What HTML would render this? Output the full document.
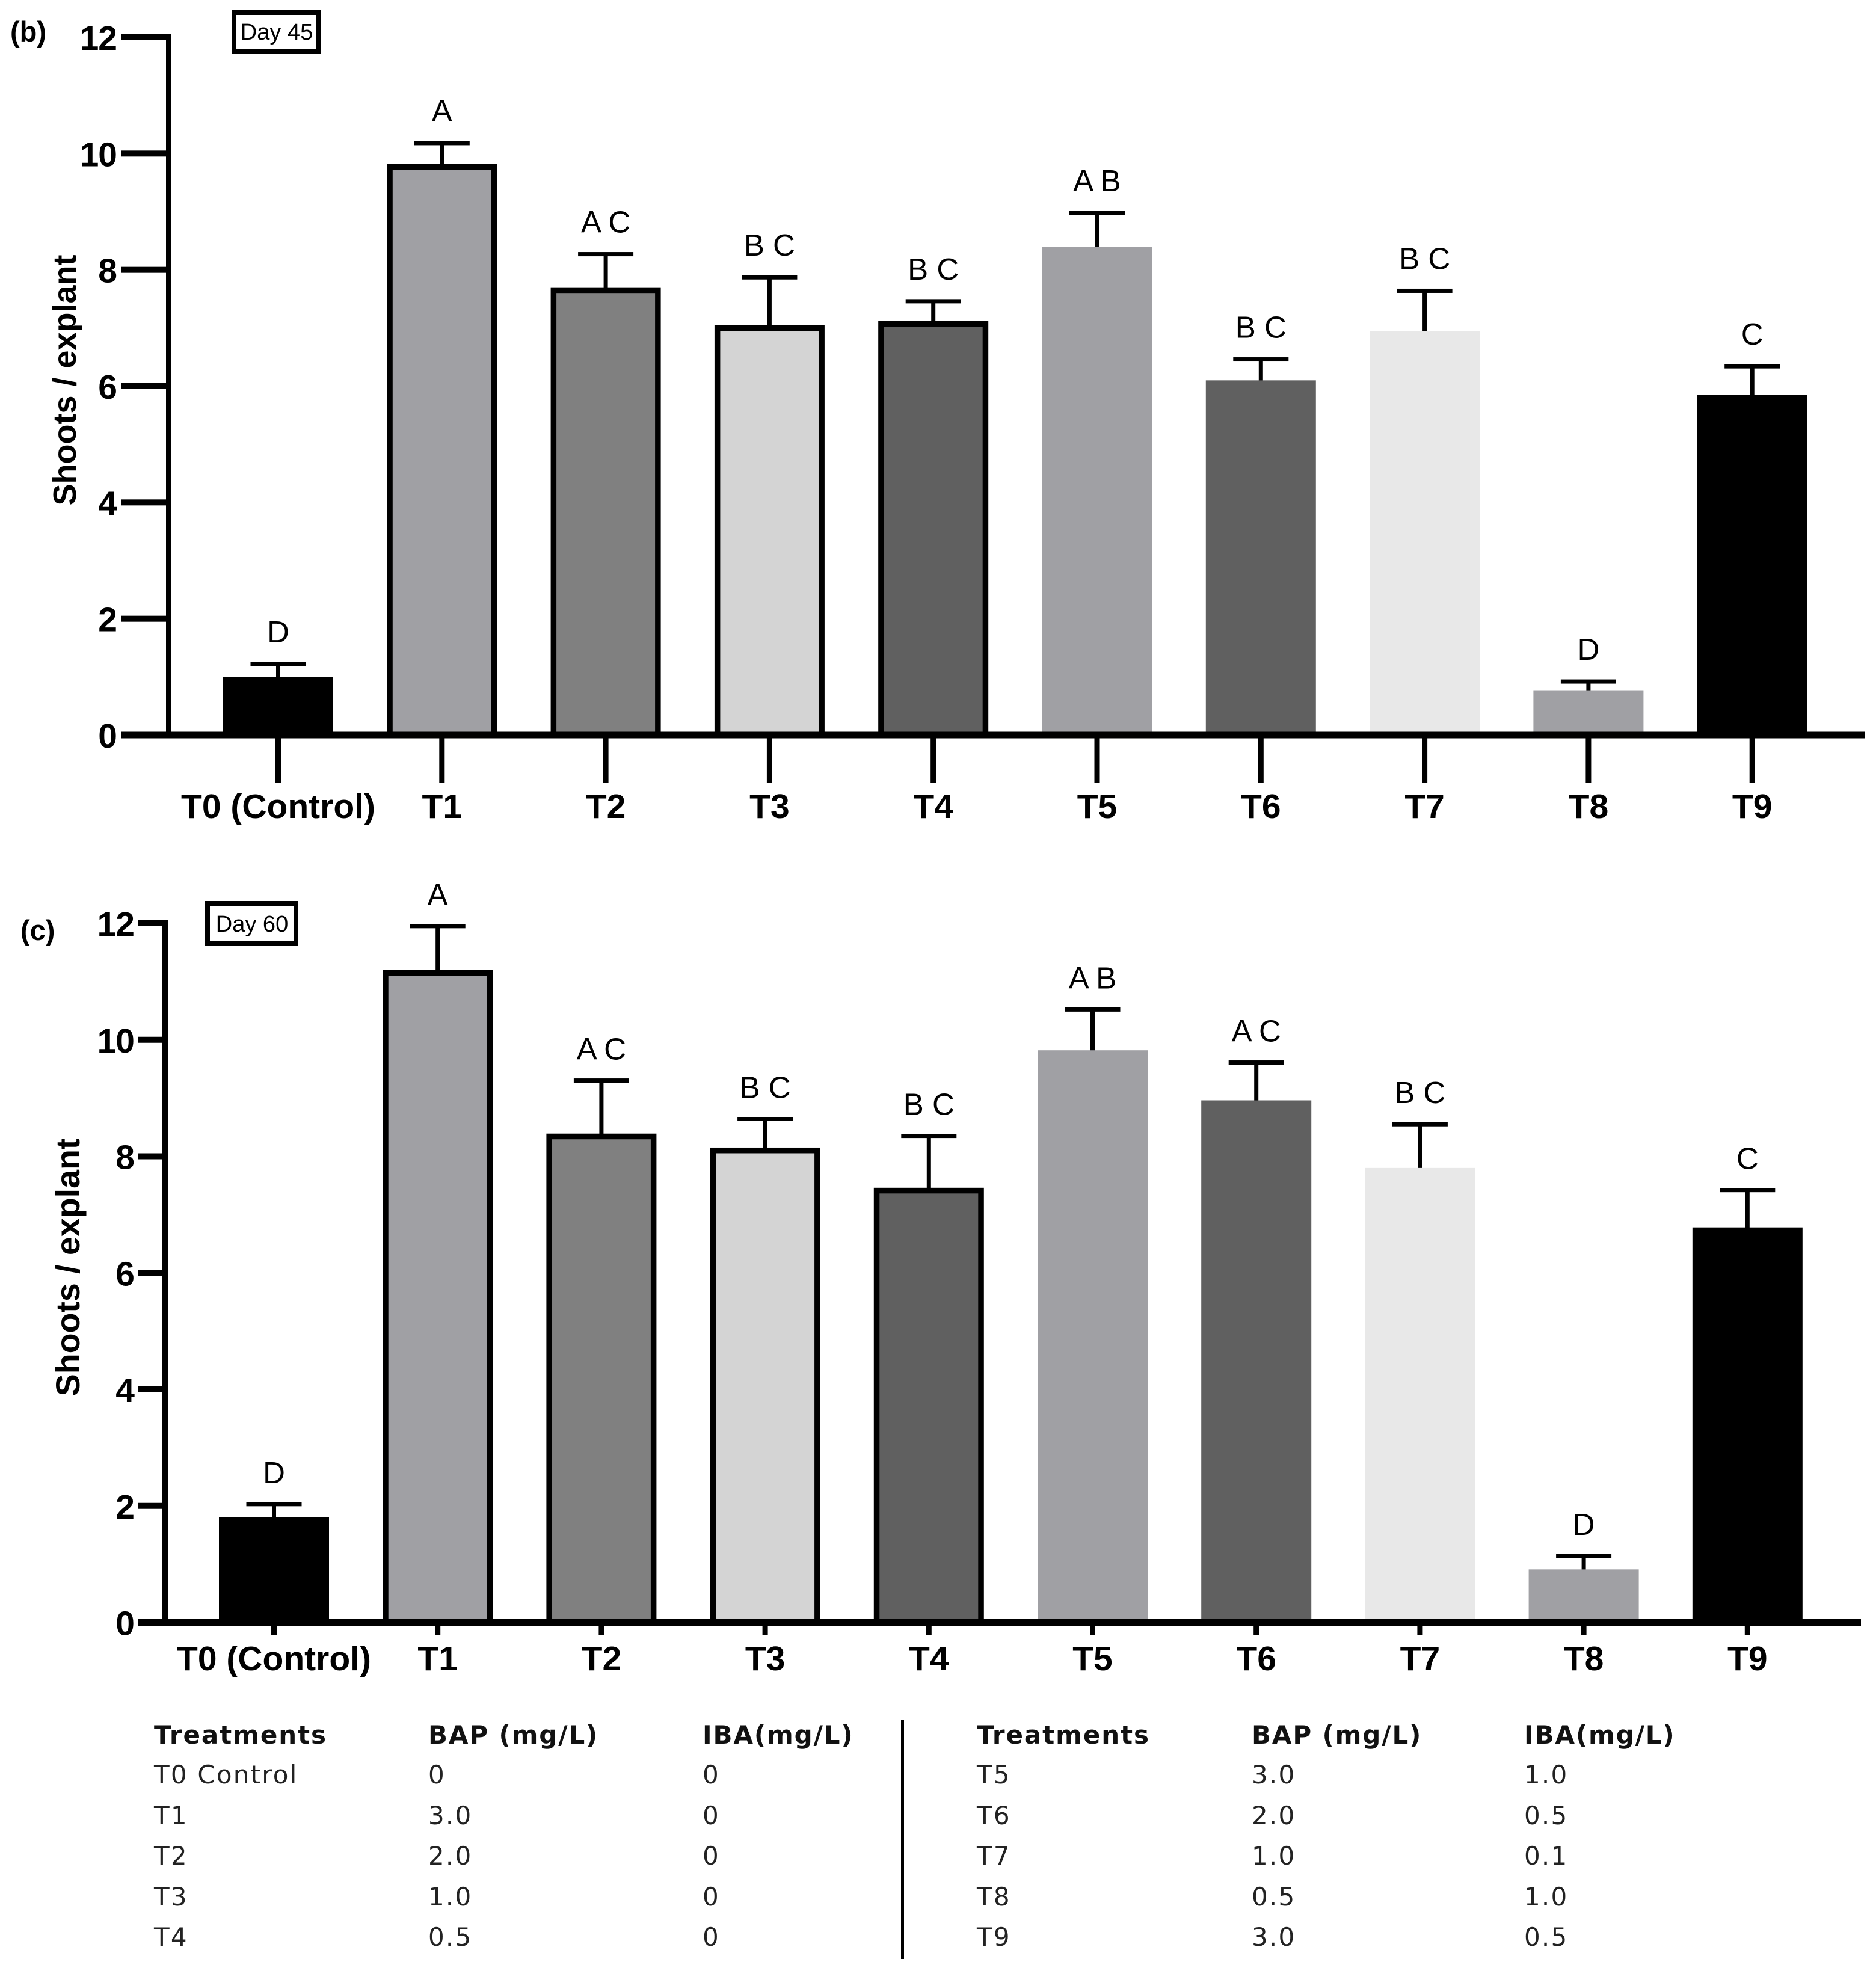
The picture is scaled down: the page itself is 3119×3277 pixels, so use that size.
<!DOCTYPE html>
<html lang="en">
<head>
<meta charset="utf-8">
<title>Shoots per explant at day 45 and day 60</title>
<style>
html,body{margin:0;padding:0;background:#fff;}
svg{display:block;}
text{font-family:"Liberation Sans",Arial,sans-serif;fill:#000;}
.tbl text{font-family:"DejaVu Sans",sans-serif;font-size:42px;fill:#222;letter-spacing:2.2px;}
.tbl text.h{font-weight:bold;fill:#111;font-size:42px;letter-spacing:1.9px;}
</style>
</head>
<body>
<svg id="figure" xmlns="http://www.w3.org/2000/svg" width="3119" height="3277" viewBox="0 0 3119 3277">
  <rect x="0" y="0" width="3119" height="3277" fill="#fff"/>

  <g id="panel-b"></g>
  <g id="panel-c"></g>

  <text x="17" y="69" font-size="47" font-weight="bold">(b)</text>
  <rect x="389" y="21" width="141" height="65" fill="#fff" stroke="#000" stroke-width="8"/>
  <text x="460" y="66" font-size="38" text-anchor="middle">Day 45</text>
  <text transform="translate(126 632) rotate(-90)" font-size="54" font-weight="bold" text-anchor="middle">Shoots / explant</text>

  <text x="34" y="1563" font-size="47" font-weight="bold">(c)</text>
  <rect x="345" y="1502" width="147" height="67" fill="#fff" stroke="#000" stroke-width="8"/>
  <text x="419" y="1549" font-size="38" text-anchor="middle">Day 60</text>
  <text transform="translate(132 2107) rotate(-90)" font-size="55.5" font-weight="bold" text-anchor="middle">Shoots / explant</text>

  <g class="tbl">
    <text class="h" x="256" y="2899">Treatments</text>
    <text class="h" x="712" y="2899">BAP (mg/L)</text>
    <text class="h" x="1168" y="2899">IBA(mg/L)</text>
    <text x="256" y="2965">T0 Control</text>
    <text x="712" y="2965">0</text>
    <text x="1168" y="2965">0</text>
    <text x="256" y="3033">T1</text>
    <text x="712" y="3033">3.0</text>
    <text x="1168" y="3033">0</text>
    <text x="256" y="3100">T2</text>
    <text x="712" y="3100">2.0</text>
    <text x="1168" y="3100">0</text>
    <text x="256" y="3168">T3</text>
    <text x="712" y="3168">1.0</text>
    <text x="1168" y="3168">0</text>
    <text x="256" y="3235">T4</text>
    <text x="712" y="3235">0.5</text>
    <text x="1168" y="3235">0</text>

    <rect x="1498" y="2860" width="5" height="397" fill="#000"/>

    <text class="h" x="1624" y="2899">Treatments</text>
    <text class="h" x="2081" y="2899">BAP (mg/L)</text>
    <text class="h" x="2534" y="2899">IBA(mg/L)</text>
    <text x="1624" y="2965">T5</text>
    <text x="2081" y="2965">3.0</text>
    <text x="2534" y="2965">1.0</text>
    <text x="1624" y="3033">T6</text>
    <text x="2081" y="3033">2.0</text>
    <text x="2534" y="3033">0.5</text>
    <text x="1624" y="3100">T7</text>
    <text x="2081" y="3100">1.0</text>
    <text x="2534" y="3100">0.1</text>
    <text x="1624" y="3168">T8</text>
    <text x="2081" y="3168">0.5</text>
    <text x="2534" y="3168">1.0</text>
    <text x="1624" y="3235">T9</text>
    <text x="2081" y="3235">3.0</text>
    <text x="2534" y="3235">0.5</text>
  </g>
</svg>

<script>
// Chart data
const categories = ["T0 (Control)", "T1", "T2", "T3", "T4", "T5", "T6", "T7", "T8", "T9"];
const yTicks = [0, 2, 4, 6, 8, 10, 12];

const day45Means  = [1.0, 9.82, 7.7, 7.05, 7.12, 8.4, 6.1, 6.95, 0.76, 5.85];
const day45Errors = [0.22, 0.36, 0.57, 0.82, 0.34, 0.58, 0.36, 0.69, 0.16, 0.49];
const day45Letters = ["D", "A", "A C", "B C", "B C", "A B", "B C", "B C", "D", "C"];

const day60Means  = [1.81, 11.2, 8.39, 8.15, 7.46, 9.82, 8.96, 7.8, 0.91, 6.78];
const day60Errors = [0.22, 0.75, 0.91, 0.49, 0.89, 0.7, 0.65, 0.75, 0.23, 0.64];
const day60Letters = ["D", "A", "A C", "B C", "B C", "A B", "A C", "B C", "D", "C"];

// Bar appearance (one swatch per treatment)
const palette = {
  T0: {fill: "#000000", outlined: false},
  T1: {fill: "#a0a0a4", outlined: true},
  T2: {fill: "#808080", outlined: true},
  T3: {fill: "#d4d4d4", outlined: true},
  T4: {fill: "#606060", outlined: true},
  T5: {fill: "#a0a0a4", outlined: false},
  T6: {fill: "#606060", outlined: false},
  T7: {fill: "#e8e8e8", outlined: false},
  T8: {fill: "#a0a0a4", outlined: false},
  T9: {fill: "#000000", outlined: false}
};

const NS = "http://www.w3.org/2000/svg";
function make(tag, attrs, parent) {
  const node = document.createElementNS(NS, tag);
  for (const key in attrs) node.setAttribute(key, attrs[key]);
  parent.appendChild(node);
  return node;
}

function drawPanel(panel) {
  const root = document.getElementById(panel.id);
  const yScale = v => panel.y0 + (panel.y12 - panel.y0) * v / 12;
  const xScale = i => panel.x0 + panel.step * i;
  const barWidth = 183;
  const axisY = yScale(0);

  categories.forEach((name, i) => {
    const key = name.slice(0, 2);
    const cx = xScale(i);
    const top = yScale(panel.means[i]);
    const errTop = yScale(panel.means[i] + panel.errors[i]);
    const style = palette[key];

    const stem = make("rect", {x: cx - 3.5, y: errTop, width: 7, height: top - errTop + 4, fill: "#000"}, root);
    
    

    const cap = make("rect", {x: cx - 46, y: errTop - 3.5, width: 92, height: 7, fill: "#000"}, root);
    
    

    const sw = style.outlined ? panel.stroke : 0;
    const bar = make("rect", {
      x: cx - barWidth / 2 + sw / 2,
      y: top + sw / 2,
      width: barWidth - sw,
      height: axisY - top - sw / 2,
      fill: style.fill,
      stroke: style.outlined ? "#000" : "none",
      "stroke-width": sw
    }, root);
    
    

    const letter = make("text", {x: cx, y: errTop - panel.letterGap, "font-size": 51, "text-anchor": "middle"}, root);
    letter.textContent = panel.letters[i];
    
    

    const tick = make("rect", {x: cx - 4.5, y: axisY, width: 9, height: panel.xTickEnd - axisY, fill: "#000"}, root);
    
    

    const label = make("text", {x: cx, y: panel.xLabelY, "font-size": 57, "font-weight": "bold", "text-anchor": "middle"}, root);
    label.textContent = name;
    
    
  });

  const yAxis = make("rect", {x: panel.axisX, y: yScale(12) - 5, width: panel.axisW, height: axisY - yScale(12) + 5, fill: "#000"}, root);
  
  

  const xAxis = make("rect", {x: panel.tickStart, y: axisY - 5.5, width: panel.axisEnd - panel.tickStart, height: 11, fill: "#000"}, root);
  
  

  yTicks.forEach(v => {
    const y = yScale(v);
    const tick = make("rect", {x: panel.tickStart, y: y - 5, width: panel.axisX - panel.tickStart + 1, height: 10, fill: "#000"}, root);
    
    

    const label = make("text", {x: panel.tickStart - 7, y: y + 21, "font-size": 57, "font-weight": "bold", "text-anchor": "end", "letter-spacing": "-1"}, root);
    label.textContent = String(v);
    
    
  });
}

drawPanel({
  id: "panel-b", means: day45Means, errors: day45Errors, letters: day45Letters,
  y0: 1222, y12: 62, x0: 462.5, step: 272.3, stroke: 9.5, letterGap: 36,
  axisX: 276, axisW: 9, tickStart: 201, axisEnd: 3101, xTickEnd: 1302, xLabelY: 1360
});
drawPanel({
  id: "panel-c", means: day60Means, errors: day60Errors, letters: day60Letters,
  y0: 2697.5, y12: 1535, x0: 455.5, step: 272.2, stroke: 9.5, letterGap: 35,
  axisX: 269, axisW: 10, tickStart: 230, axisEnd: 3094, xTickEnd: 2718, xLabelY: 2777
});
</script>
</body>
</html>
